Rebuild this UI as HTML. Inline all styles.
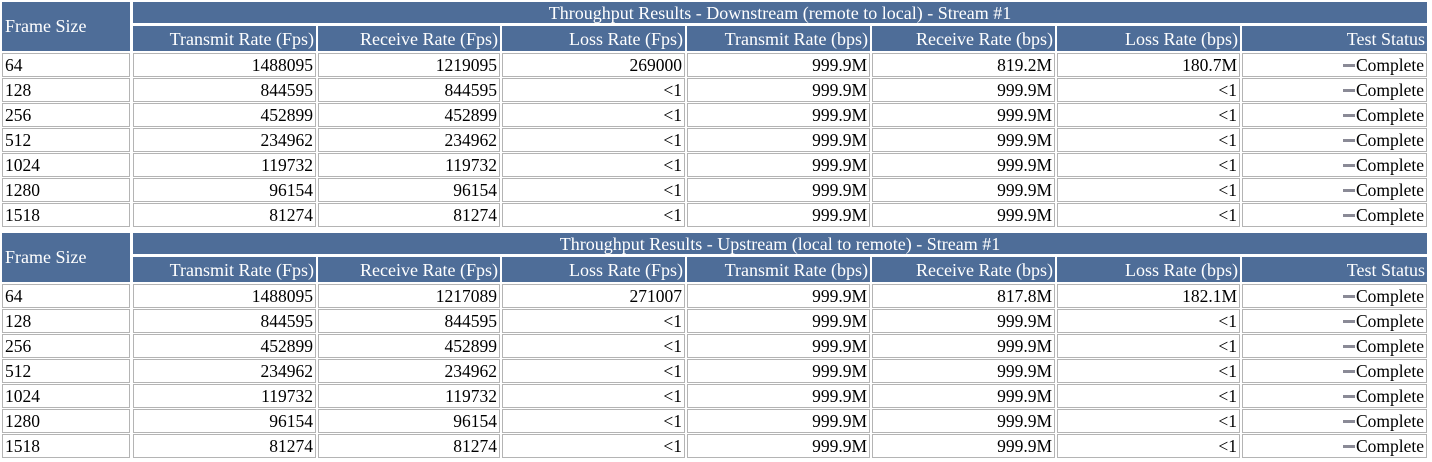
<!DOCTYPE html>
<html><head><meta charset="utf-8"><style>
body{margin:0;width:1432px;height:462px;background:#fff;position:relative;overflow:hidden;font-family:"Liberation Serif",serif;font-size:17.5px;color:#000}
.c{position:absolute;box-sizing:border-box;white-space:nowrap;line-height:21px;padding:0 2px}
.h{background:#4e6d98;color:#fff;font-size:18px}
.d{border:1px solid #b4b4b4;text-align:right;line-height:22px}
.r{text-align:right}
.dash{display:inline-block;width:12px;height:3px;background:#8a8a96;vertical-align:middle;margin-right:1px;position:relative;top:-1px}
</style></head><body>
<script>
var xs=[[2,130],[133,316],[318,500],[502,685],[687,870],[872,1055],[1057,1240],[1242,1427]];
var heads=["Transmit Rate (Fps)","Receive Rate (Fps)","Loss Rate (Fps)","Transmit Rate (bps)","Receive Rate (bps)","Loss Rate (bps)","Test Status"];
var fs=["64","128","256","512","1024","1280","1518"];
var T=[
{y:2,title:"Throughput Results - Downstream (remote to local) - Stream #1",first:["1488095","1219095","269000","999.9M","819.2M","180.7M"]},
{y:233,title:"Throughput Results - Upstream (local to remote) - Stream #1",first:["1488095","1217089","271007","999.9M","817.8M","182.1M"]}];
var tx=["844595","452899","234962","119732","96154","81274"];
var h="";
function cell(x0,x1,y0,y1,cls,txt,st){h+='<div class="c '+cls+'" style="left:'+x0+'px;top:'+y0+'px;width:'+(x1-x0)+'px;height:'+(y1-y0)+'px;'+(st||'')+'">'+txt+'</div>';}
T.forEach(function(t){
 var y=t.y;
 cell(2,130,y,y+49,"h","Frame Size","line-height:48px;padding-left:3px");
 cell(133,1427,y,y+21,"h",t.title,"text-align:center;line-height:22px");
 for(var i=0;i<7;i++)cell(xs[i+1][0],xs[i+1][1],y+24,y+49,"h r",heads[i],"line-height:27px");
 for(var r=0;r<7;r++){
  var yy=y+51+r*25;
  var vals=r==0?t.first:[tx[r-1],tx[r-1],"&lt;1","999.9M","999.9M","&lt;1"];
  cell(2,130,yy,yy+24,"d",fs[r],"text-align:left");
  for(var i=0;i<6;i++)cell(xs[i+1][0],xs[i+1][1],yy,yy+24,"d",vals[i]);
  cell(xs[7][0],xs[7][1],yy,yy+24,"d",'<span class="dash"></span>Complete');
 }
});
document.write(h);
</script>
</body></html>
